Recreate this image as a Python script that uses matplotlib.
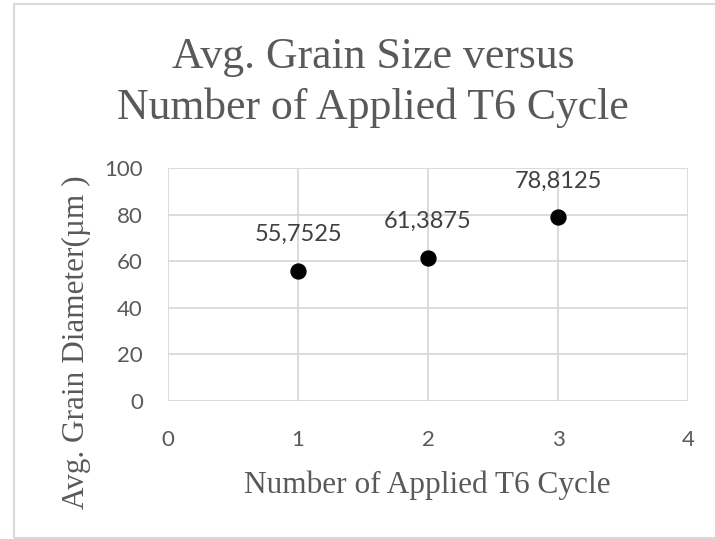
"""Avg. grain size versus number of applied T6 cycles
"""
import matplotlib as mpl
import matplotlib.pyplot as plt
from matplotlib.patches import Rectangle

mpl.rcParams['font.family'] = 'Lato'

cycles = [1, 2, 3]
grain_size = [55.7525, 61.3875, 78.8125]
x_ticks = [0, 1, 2, 3, 4]
y_ticks = [0, 20, 40, 60, 80, 100]

title_lines = ['Avg. Grain Size versus', 'Number of Applied T6 Cycle']
x_label = 'Number of Applied T6 Cycle'
y_label = 'Avg. Grain Diameter(\u00b5m )'

grey = '#595959'
W, H = 715., 539.


def main():
    fig = plt.figure(figsize=(W/100, H/100), dpi=100)
    # outer chart frame (right side runs off the picture)
    fig.patches.append(Rectangle((14/W, 1 - 538/H), 720/W, 534/H, transform=fig.transFigure,
                                 fill=False, edgecolor='#d9d9d9', linewidth=1.5))
    ax = fig.add_axes([168/W, 1 - 401/H, (688 - 168)/W, (401 - 168)/H])

    ax.scatter(cycles, grain_size, s=115, color='black', zorder=3)
    for x, y in zip(cycles, grain_size):
        ax.annotate('{:.4f}'.format(y).replace('.', ','), (x, y), xytext=(0, 26),
                    textcoords='offset pixels', ha='center', va='bottom',
                    fontsize=17, color='#404040')

    ax.set_xlim(0, 4)
    ax.set_ylim(0, 100)
    ax.set_xticks(x_ticks)
    ax.set_yticks(y_ticks)
    ax.grid(True, color='#d9d9d9', linewidth=1.3)
    ax.set_axisbelow(True)
    for s in ax.spines.values():
        s.set_visible(False)
    ax.tick_params(length=0, labelsize=16, labelcolor=grey)
    ax.tick_params(axis='x', pad=21)
    ax.tick_params(axis='y', pad=18)

    for line, yb in zip(title_lines, [68, 119]):
        fig.text(373/W, 1 - yb/H, line, ha='center', va='baseline', fontsize=31.5,
                 color=grey, family='Liberation Serif')
    fig.text(427/W, 1 - 493/H, x_label, ha='center', va='baseline', fontsize=22.5,
             color=grey, family='Liberation Serif')
    fig.text(76/W, 1 - 342/H, y_label, ha='center', va='center', fontsize=22.5,
             color=grey, family='Liberation Serif', rotation=90)

    plt.savefig('out.png', dpi=100)
    plt.close()


if __name__ == '__main__':
    main()
